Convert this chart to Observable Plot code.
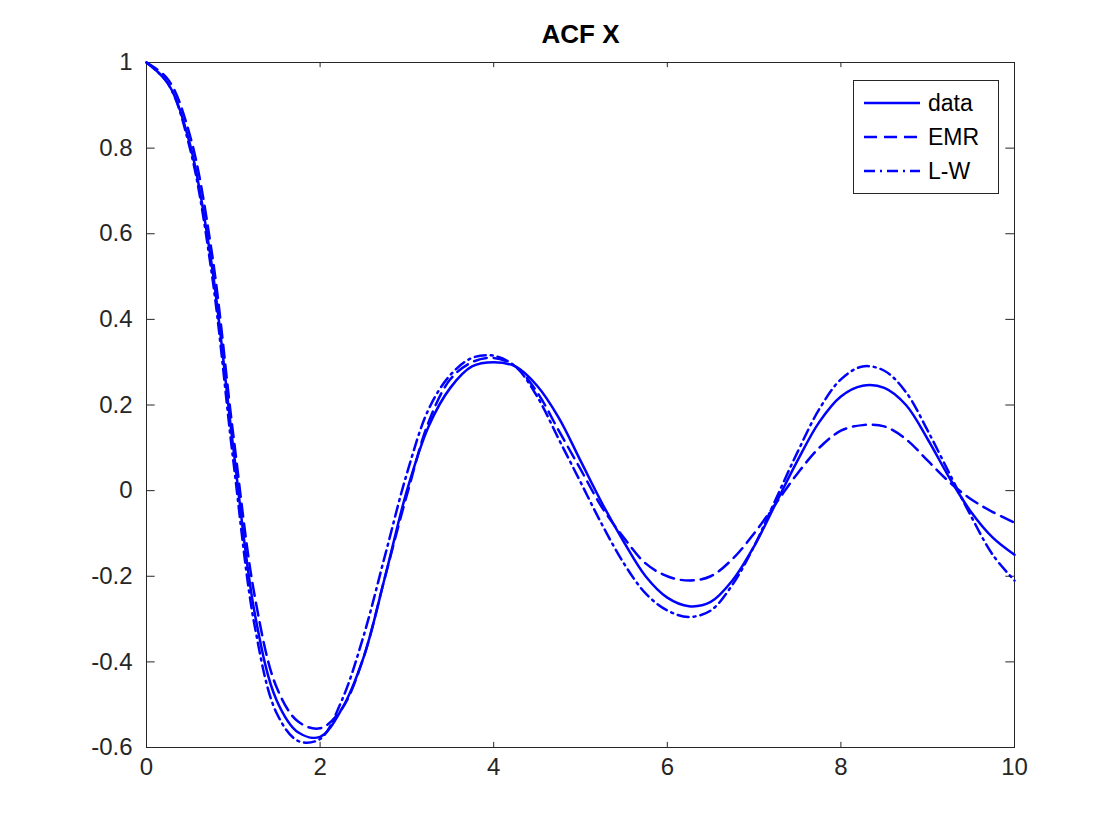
<!DOCTYPE html>
<html><head><meta charset="utf-8">
<script src="https://cdn.jsdelivr.net/npm/d3@7"></script>
<script src="https://cdn.jsdelivr.net/npm/@observablehq/plot@0.6"></script>
<style>body{margin:0;background:#fff;font-family:"Liberation Sans",Arial,sans-serif}#wrap{position:relative;width:1120px;height:840px}
#legend{position:absolute;left:853px;top:80px;width:146px;height:114px;border:1px solid #262626;background:#fff;box-sizing:border-box;font-size:22px}
</style></head><body><div id="wrap"><div id="legend"></div></div>
<script>
const lags = d3.range(0, 10.001, 0.25);
const dataACF = [1,0.95,0.81,0.53,0.10,-0.29,-0.49,-0.565,-0.575,-0.51,-0.39,-0.20,0.0,0.15,0.24,0.29,0.30,0.29,0.245,0.17,0.07,-0.03,-0.12,-0.20,-0.25,-0.27,-0.26,-0.21,-0.13,-0.03,0.07,0.16,0.22,0.245,0.24,0.20,0.12,0.03,-0.05,-0.11,-0.15];
const emrACF = [1,0.96,0.83,0.56,0.13,-0.25,-0.46,-0.54,-0.555,-0.51,-0.39,-0.20,-0.01,0.16,0.26,0.30,0.31,0.29,0.23,0.14,0.05,-0.04,-0.11,-0.17,-0.20,-0.21,-0.20,-0.16,-0.10,-0.03,0.04,0.10,0.14,0.153,0.15,0.12,0.07,0.02,-0.02,-0.05,-0.075];
const lwACF = [1,0.95,0.80,0.51,0.07,-0.32,-0.52,-0.585,-0.58,-0.49,-0.34,-0.15,0.04,0.19,0.27,0.31,0.315,0.29,0.22,0.12,0.02,-0.08,-0.17,-0.24,-0.28,-0.295,-0.28,-0.22,-0.13,-0.02,0.09,0.19,0.26,0.29,0.28,0.23,0.14,0.04,-0.06,-0.15,-0.21];
const xTicks = [0,2,4,6,8,10];
const yTicks = [-0.6,-0.4,-0.2,0,0.2,0.4,0.6,0.8,1];
const series = [
  {name:"data", vals:dataACF, dash:null},
  {name:"EMR", vals:emrACF, dash:"13,7"},
  {name:"L-W", vals:lwACF, dash:"11,5,2,5"}
];
const marks = [
  Plot.frame({stroke:"#262626"}),
  Plot.ruleX(xTicks,{y1:-0.6,y2:-0.588,stroke:"#262626"}),
  Plot.ruleX(xTicks,{y1:1,y2:0.988,stroke:"#262626"}),
  Plot.ruleY(yTicks,{x1:0,x2:0.1,stroke:"#262626"}),
  Plot.ruleY(yTicks,{x1:10,x2:9.9,stroke:"#262626"}),
  Plot.axisX(xTicks,{tickSize:0,tickPadding:10,fontSize:24,fill:"#262626",tickFormat:d=>String(d)}),
  Plot.axisY(yTicks,{tickSize:0,tickPadding:14,fontSize:24,fill:"#262626",tickFormat:d=>String(d)}),
  Plot.text(["ACF X"],{frameAnchor:"top",dy:-20,lineAnchor:"bottom",fontSize:26,fontWeight:"bold",fill:"#000"})
];
for (const s of series) {
  marks.push(Plot.line(lags.map((x,i)=>({x,y:s.vals[i]})),{x:"x",y:"y",stroke:"#0000ff",strokeWidth:2.5,curve:"catmull-rom",strokeDasharray:s.dash}));
}
const chart = Plot.plot({width:1120,height:840,marginLeft:146,marginRight:106,marginTop:62,marginBottom:93,
  style:{fontFamily:"Liberation Sans, Arial, sans-serif",background:"#fff"},
  x:{domain:[0,10],label:null},y:{domain:[-0.6,1],label:null},marks});
document.getElementById("wrap").prepend(chart);
let lg = '<svg width="146" height="112">';
series.forEach((s,i)=>{const y=22+i*34;
  lg+=`<line x1="10" x2="66" y1="${y}" y2="${y}" stroke="#0000ff" stroke-width="2.5" ${s.dash?`stroke-dasharray="${s.dash}"`:""}/>`;
  lg+=`<text x="74" y="${y+8}" font-size="23" fill="#000">${s.name}</text>`;});
lg+='</svg>';
document.getElementById("legend").innerHTML=lg;
</script></body></html>
